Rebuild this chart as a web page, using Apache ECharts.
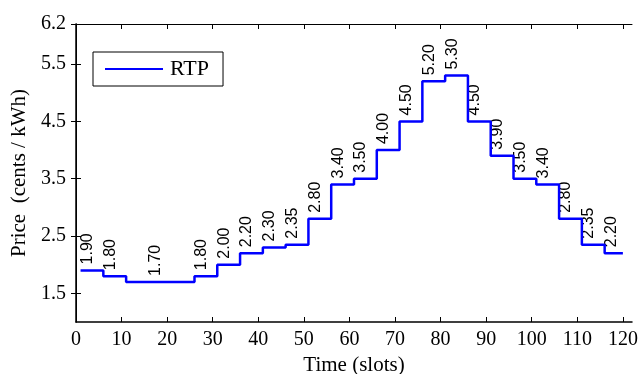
<!DOCTYPE html>
<html>
<head>
<meta charset="utf-8">
<script src="https://cdn.jsdelivr.net/npm/echarts@6/dist/echarts.min.js"></script>
<style>
  html, body { margin: 0; padding: 0; background: #fff; }
  #rtp_chart { width: 641px; height: 374px; }
</style>
</head>
<body>
<div id="rtp_chart"></div>
<script>
// hourly RTP price, each hour is 5 slots
var slotStart = [1, 6, 11, 16, 21, 26, 31, 36, 41, 46, 51, 56, 61, 66, 71, 76, 81, 86, 91, 96, 101, 106, 111, 116];
var price = [1.90, 1.80, 1.70, 1.70, 1.70, 1.80, 2.00, 2.20, 2.30, 2.35, 2.80, 3.40,
             3.50, 4.00, 4.50, 5.20, 5.30, 4.50, 3.90, 3.50, 3.40, 2.80, 2.35, 2.20];
var lastSlot = 120;
// hours whose price gets a text label (the 1.70 run is labelled once)
var labelHours = [0, 1, 3, 5, 6, 7, 8, 9, 10, 11, 12, 13, 14, 15, 16, 17, 18, 19, 20, 21, 22, 23];
var xTicks = [0, 10, 20, 30, 40, 50, 60, 70, 80, 90, 100, 110, 120];
var yTicks = [1.5, 2.5, 3.5, 4.5, 5.5, 6.2];

var stepData = [];
for (var i = 0; i < price.length; i++) {
  stepData.push([slotStart[i], price[i]]);
}
stepData.push([lastSlot, price[price.length - 1]]);

var labelData = [];
for (var j = 0; j < labelHours.length; j++) {
  var h = labelHours[j];
  labelData.push([slotStart[h], price[h]]);
}

var serif = '"Liberation Serif", "Times New Roman", serif';
var sans = '"Liberation Sans", Arial, sans-serif';

var chart = echarts.init(document.getElementById('rtp_chart'));
var option = {
  animation: false,
  grid: { left: 76, right: 9, top: 24, bottom: 52, outerBoundsMode: 'none', containLabel: false },
  legend: {
    left: 93,
    top: 52,
    padding: [6, 14, 6, 12],
    borderColor: '#000',
    borderWidth: 1,
    backgroundColor: '#fff',
    icon: 'rect',
    itemWidth: 58,
    itemHeight: 2,
    itemGap: 0,
    data: ['RTP'],
    textStyle: { fontFamily: serif, fontSize: 22, color: '#000', padding: [0, 0, 0, 2] }
  },
  xAxis: [
    {
      type: 'value',
      min: 0,
      max: 122,
      name: 'Time (slots)',
      nameLocation: 'middle',
      nameGap: 31,
      nameTextStyle: { fontFamily: serif, fontSize: 21, color: '#000' },
      axisLine: { show: true, lineStyle: { color: '#000', width: 1.5 } },
      axisTick: { inside: true, length: 5, customValues: xTicks, lineStyle: { color: '#000' } },
      axisLabel: { customValues: xTicks, margin: 8, fontFamily: serif, fontSize: 20, color: '#000' },
      splitLine: { show: false }
    },
    {
      type: 'value',
      position: 'top',
      min: 0,
      max: 122,
      axisLine: { show: true, lineStyle: { color: '#000', width: 1 } },
      axisTick: { inside: true, length: 5, customValues: xTicks, lineStyle: { color: '#000' } },
      axisLabel: { show: false },
      splitLine: { show: false }
    }
  ],
  yAxis: [
    {
      type: 'value',
      min: 1,
      max: 6.2,
      name: 'Price  (cents / kWh)',
      nameLocation: 'middle',
      nameGap: 42,
      nameTextStyle: { fontFamily: serif, fontSize: 21, color: '#000' },
      axisLine: { show: true, lineStyle: { color: '#000', width: 1.5 } },
      axisTick: { inside: true, length: 5, customValues: yTicks, lineStyle: { color: '#000' } },
      axisLabel: {
        customValues: yTicks,
        margin: 10,
        fontFamily: serif,
        fontSize: 20,
        color: '#000',
        formatter: function (v) { return v.toFixed(1); }
      },
      splitLine: { show: false }
    },
    {
      type: 'value',
      position: 'right',
      min: 1,
      max: 6.2,
      axisLine: { show: true, lineStyle: { color: '#000', width: 1 } },
      axisTick: { inside: true, length: 5, customValues: yTicks, lineStyle: { color: '#000' } },
      axisLabel: { show: false },
      splitLine: { show: false }
    }
  ],
  series: [
    {
      name: 'RTP',
      type: 'line',
      step: 'end',
      symbol: 'none',
      data: stepData,
      lineStyle: { color: '#0000ff', width: 2.5 },
      itemStyle: { color: '#0000ff' }
    },
    {
      name: 'labels',
      type: 'scatter',
      symbolSize: 0,
      data: labelData,
      silent: true,
      itemStyle: { opacity: 1 },
      label: {
        show: true,
        position: [-1, -6],
        rotate: 90,
        align: 'left',
        verticalAlign: 'top',
        fontFamily: sans,
        fontSize: 16,
        color: '#000',
        formatter: function (p) { return p.value[1].toFixed(2); }
      }
    }
  ]
};
option && chart.setOption(option);
</script>
</body>
</html>
